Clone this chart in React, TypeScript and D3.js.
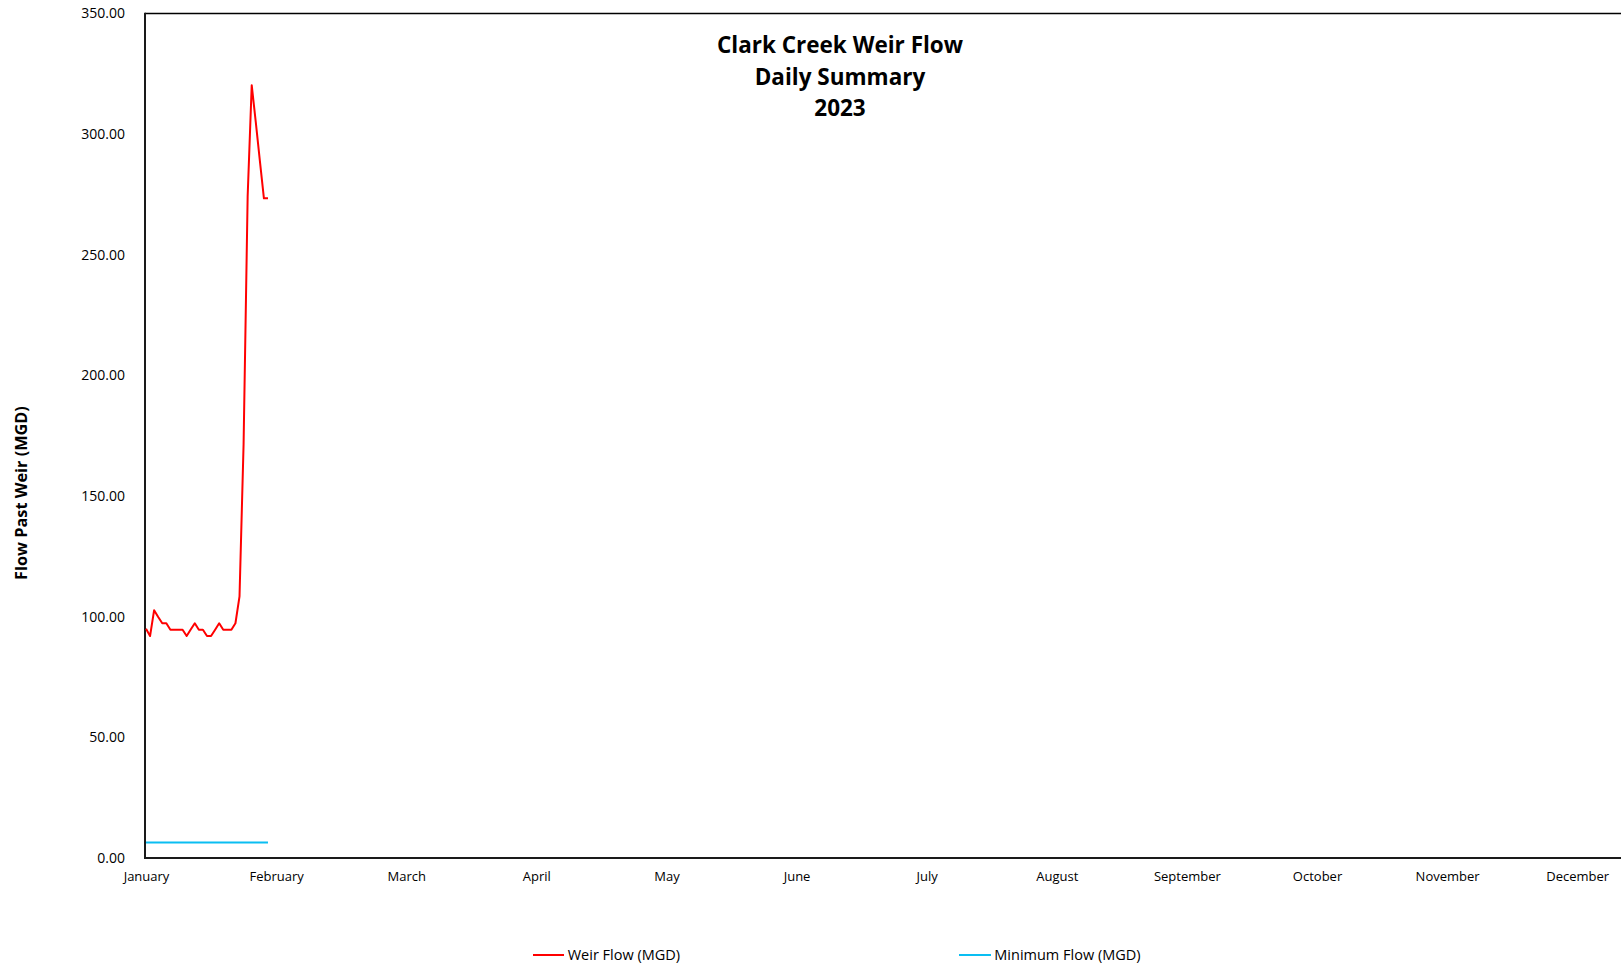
import React, { useEffect, useRef } from 'react';
import * as d3 from 'd3';

// Daily flow past the Clark Creek weir, January 2023 (MGD)
const weirFlow = [
  95.0, 92.0, 102.7, 99.9, 97.3, 97.3, 94.6, 94.6, 94.6, 94.6,
  92.0, 94.7, 97.3, 94.6, 94.6, 92.0, 92.0, 94.6, 97.3, 94.6,
  94.6, 94.6, 97.3, 108.4, 171.5, 274.2, 320.3, 305.0, 289.0, 273.4,
  273.4,
];

// Required minimum flow for the same days (MGD)
const minimumFlow = [
  6.46, 6.46, 6.46, 6.46, 6.46, 6.46, 6.46, 6.46, 6.46, 6.46,
  6.46, 6.46, 6.46, 6.46, 6.46, 6.46, 6.46, 6.46, 6.46, 6.46,
  6.46, 6.46, 6.46, 6.46, 6.46, 6.46, 6.46, 6.46, 6.46, 6.46,
  6.46,
];

const monthLabels = [
  'January', 'February', 'March', 'April', 'May', 'June',
  'July', 'August', 'September', 'October', 'November', 'December',
];

const yTicks = [0, 50, 100, 150, 200, 250, 300, 350];
const titleLines = ['Clark Creek Weir Flow', 'Daily Summary', '2023'];

const DAYS_IN_YEAR = 365;
const LABEL_INTERVAL = 32; // category axis shows a label every 32 days

const W = 1621;
const H = 966;
const plot = { left: 145, top: 13.5, bottom: 858, right: 1630 };
const FONT = "'Open Sans', 'Noto Sans', sans-serif";
const WEIR_COLOR = '#FF0000';
const MIN_COLOR = '#0ABEF2';

export default function App() {
  const yAxisRef = useRef<SVGGElement>(null);
  const xAxisRef = useRef<SVGGElement>(null);

  const x = d3.scaleLinear().domain([0, DAYS_IN_YEAR - 1]).range([146, 146 + (DAYS_IN_YEAR - 1) * 4.066]);
  const y = d3.scaleLinear().domain([0, 350]).range([plot.bottom, plot.top]);

  const line = d3
    .line<number>()
    .x((_, i) => x(i))
    .y((d) => y(d));

  useEffect(() => {
    if (yAxisRef.current) {
      const g = d3.select(yAxisRef.current);
      g.call(
        d3
          .axisLeft(y)
          .tickValues(yTicks)
          .tickFormat((d) => d3.format('.2f')(d as number))
          .tickSize(0)
          .tickPadding(20)
      );
      g.select('.domain').remove();
      g.selectAll('text')
        .attr('font-family', FONT)
        .attr('font-size', 14)
        .attr('fill', '#000');
    }
    if (xAxisRef.current) {
      const g = d3.select(xAxisRef.current);
      g.call(
        d3
          .axisBottom(x)
          .tickValues(monthLabels.map((_, i) => i * LABEL_INTERVAL))
          .tickFormat((d) => monthLabels[Math.round((d as number) / LABEL_INTERVAL)])
          .tickSize(0)
          .tickPadding(14)
      );
      g.select('.domain').remove();
      g.selectAll('text')
        .attr('font-family', FONT)
        .attr('font-size', 13)
        .attr('fill', '#000');
    }
  }, []);

  return (
    <svg
      width={W}
      height={H}
      style={{ position: 'absolute', left: 0, top: 0, background: '#fff' }}
      fontFamily={FONT}
    >
      <rect x={0} y={0} width={W} height={H} fill="#fff" />

      {/* plot frame */}
      <line x1={plot.left} x2={plot.right} y1={plot.top} y2={plot.top} stroke="#000" strokeWidth={1.5} />
      <line x1={plot.left} x2={plot.left} y1={plot.top - 0.75} y2={plot.bottom + 1} stroke="#1a1a1a" strokeWidth={2} />
      <line x1={plot.left - 1} x2={plot.right} y1={plot.bottom} y2={plot.bottom} stroke="#1a1a1a" strokeWidth={2} />

      <g ref={yAxisRef} transform={`translate(${plot.left},0)`} />
      <g ref={xAxisRef} transform={`translate(0,${plot.bottom})`} />

      {/* series */}
      <path d={line(minimumFlow) || ''} fill="none" stroke={MIN_COLOR} strokeWidth={2} />
      <path d={line(weirFlow) || ''} fill="none" stroke={WEIR_COLOR} strokeWidth={2} strokeLinejoin="round" />

      {/* title */}
      <text textAnchor="middle" fontWeight="bold" fontSize={22.5} fill="#000">
        {titleLines.map((t, i) => (
          <tspan key={t} x={840} y={53.3 + i * 31.3}>
            {t}
          </tspan>
        ))}
      </text>

      {/* y axis title */}
      <text
        transform={`translate(27,493) rotate(-90)`}
        textAnchor="middle"
        fontWeight="bold"
        fontSize={16.3}
        fill="#000"
      >
        Flow Past Weir (MGD)
      </text>

      {/* legend */}
      <g fontSize={14.5} fill="#000">
        <line x1={533} x2={564} y1={955} y2={955} stroke={WEIR_COLOR} strokeWidth={2} />
        <text x={567.7} y={960}>Weir Flow (MGD)</text>
        <line x1={959} x2={991} y1={955} y2={955} stroke={MIN_COLOR} strokeWidth={2} />
        <text x={994.3} y={960}>Minimum Flow (MGD)</text>
      </g>
    </svg>
  );
}
